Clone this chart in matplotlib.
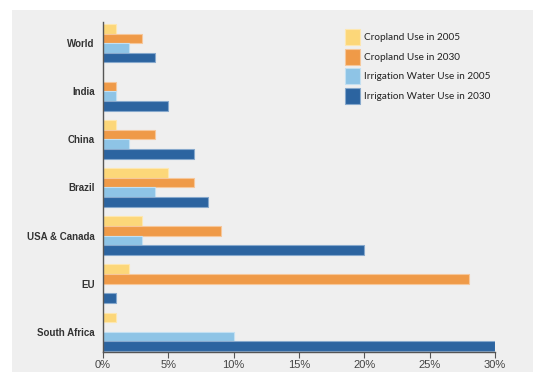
import numpy as np
import matplotlib
matplotlib.use("Agg")
import matplotlib.pyplot as plt
from matplotlib.patches import Rectangle, Patch

regions = ["World", "India", "China", "Brazil", "USA & Canada", "EU", "South Africa"]
crop_2005 = [1, 0, 1, 5, 3, 2, 1]
crop_2030 = [3, 1, 4, 7, 9, 28, 0]
water_2005 = [2, 1, 2, 4, 3, 0, 10]
water_2030 = [4, 5, 7, 8, 20, 1, 30]
series_names = ["Cropland Use in 2005", "Cropland Use in 2030",
                "Irrigation Water Use in 2005", "Irrigation Water Use in 2030"]
colors = ["#fcd779", "#ef9a48", "#8ec4e6", "#2c64a0"]
edges = ["#fde7b0", "#f6c79a", "#c3e0f2", "#86a8cc"]

fig = plt.figure(figsize=(5.33, 3.73), dpi=100)
fig.patch.set_facecolor("white")
# grey panel behind everything
fig.patches.append(Rectangle((12 / 533, 1 / 373), 1, 1 - 11 / 373, transform=fig.transFigure,
                             facecolor="#efefef", edgecolor="none", zorder=-10))

ax = fig.add_axes([103 / 533, 1 - 352 / 373, (495 - 103) / 533, 330 / 373])
ax.set_facecolor("none")

y = np.arange(len(regions))
h = 0.2
offsets = [-0.3, -0.1, 0.1, 0.3]
for vals, off, c, e, name in zip([crop_2005, crop_2030, water_2005, water_2030],
                                 offsets, colors, edges, series_names):
    ax.barh(y + off, vals, height=h, color=c, edgecolor=e, linewidth=0.8, label=name)

ax.set_xlim(0, 30)
ax.set_ylim(6.42, -0.44)
ax.set_xticks(range(0, 31, 5))
ax.set_xticklabels(["%d%%" % v for v in range(0, 31, 5)])
ax.set_yticks(y)
ax.set_yticklabels(regions, fontfamily="Liberation Sans", fontweight="bold",
                   fontsize=7.0, color="#333333")
ax.tick_params(axis="y", length=0, pad=6)
ax.tick_params(axis="x", length=4, width=0.8, color="#555555", labelcolor="#444444",
               labelsize=8, pad=2)
for lab in ax.get_xticklabels():
    lab.set_fontfamily("Liberation Sans")
for s in ["top", "right"]:
    ax.spines[s].set_visible(False)
for s in ["left", "bottom"]:
    ax.spines[s].set_color("#555555")
    ax.spines[s].set_linewidth(1.0)

handles = [Patch(facecolor=c, edgecolor=e, linewidth=0.8) for c, e in zip(colors, edges)]
leg = fig.legend(handles, series_names, loc="upper left",
                 bbox_to_anchor=(345 / 533, 1 - 29 / 373), frameon=False,
                 prop={"family": "Lato", "size": 7.2},
                 handlelength=1.5, handleheight=2.08, handletextpad=0.4,
                 labelspacing=0.37, borderpad=0, borderaxespad=0)
for t in leg.get_texts():
    t.set_color("#222222")

fig.savefig("out.png", dpi=100)
